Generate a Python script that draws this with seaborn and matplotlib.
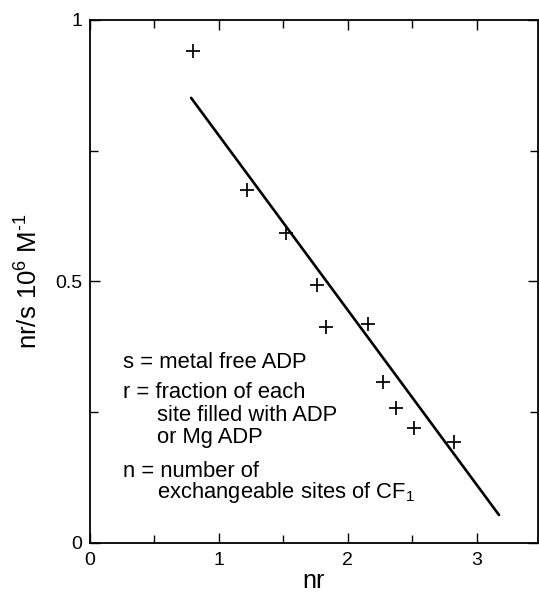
import matplotlib
matplotlib.use("Agg")
import matplotlib.pyplot as plt
import seaborn as sns
import pandas as pd

# Scatchard data: nr against nr/s (10^6 M^-1)
nr = [0.80, 1.22, 1.52, 1.76, 1.83, 2.16, 2.27, 2.37, 2.51, 2.82]
nr_over_s = [0.941, 0.675, 0.593, 0.493, 0.413, 0.419, 0.308, 0.258, 0.220, 0.193]

# fitted straight line (end points)
fit_nr = [0.787, 3.171]
fit_nr_over_s = [0.851, 0.053]

x_ticks = [0, 1, 2, 3]
y_ticks = [0, 0.5, 1]
y_tick_labels = ["0", "0.5", "1"]

legend_lines = [
    "s = metal free ADP",
    "r = fraction of each",
    "site filled with ADP",
    "or Mg ADP",
    "n = number of",
    r"exchangeable sites of CF$_1$",
]
legend_indent = [False, False, True, True, False, True]
legend_y = [0.3457, 0.2864, 0.2424, 0.2022, 0.1353, 0.0951]

sns.set_theme(style="ticks")
plt.rcParams["font.family"] = ["Liberation Sans", "DejaVu Sans"]
plt.rcParams["mathtext.fontset"] = "custom"
plt.rcParams["mathtext.rm"] = "Liberation Sans"
plt.rcParams["mathtext.it"] = "Liberation Sans:italic"
plt.rcParams["mathtext.bf"] = "Liberation Sans:bold"
plt.rcParams["text.color"] = "black"
plt.rcParams["axes.labelcolor"] = "black"
plt.rcParams["xtick.color"] = "black"
plt.rcParams["ytick.color"] = "black"

fig = plt.figure(figsize=(5.39, 5.93), dpi=100)
W, H = 539, 593
left, right, top, bottom = 89.5, 538.0, 20.0, 542.7
ax = fig.add_axes([left / W, 1 - bottom / H, (right - left) / W, (bottom - top) / H])

points = pd.DataFrame({"nr": nr, "nrs": nr_over_s})
fit = pd.DataFrame({"nr": fit_nr, "nrs": fit_nr_over_s})

sns.lineplot(data=fit, x="nr", y="nrs", ax=ax, color="black", linewidth=1.9)
sns.scatterplot(data=points, x="nr", y="nrs", ax=ax, marker="+", color="black",
                s=105, linewidth=1.25, zorder=3)

ax.set_xlim(0, 3.473)
ax.set_ylim(0, 1)
ax.set_xticks(x_ticks)
ax.set_xticklabels([str(t) for t in x_ticks])
ax.set_xticks([0.5, 1.5, 2.5], minor=True)
ax.set_yticks(y_ticks)
ax.set_yticklabels(y_tick_labels)
ax.set_yticks([0.25, 0.75], minor=True)

ax.tick_params(axis="both", which="both", direction="in", top=True, right=True,
               width=1.0, labelsize=14)
ax.tick_params(axis="both", which="major", length=7.5)
ax.tick_params(axis="both", which="minor", length=5.5)
ax.tick_params(axis="x", which="major", pad=7)
ax.tick_params(axis="y", which="major", pad=5)

for sp in ax.spines.values():
    sp.set_linewidth(1.3)
    sp.set_color("black")

ax.set_xlabel("nr", fontsize=18, labelpad=0)
ax.set_ylabel("nr/s 10$^6$ M$^{\u2010 1}$", fontsize=18.5, labelpad=9)

for text, indent, y in zip(legend_lines, legend_indent, legend_y):
    ax.text(0.526 if indent else 0.258, y, text, fontsize=15.8, va="center", ha="left")

fig.savefig("out.png", dpi=100)
